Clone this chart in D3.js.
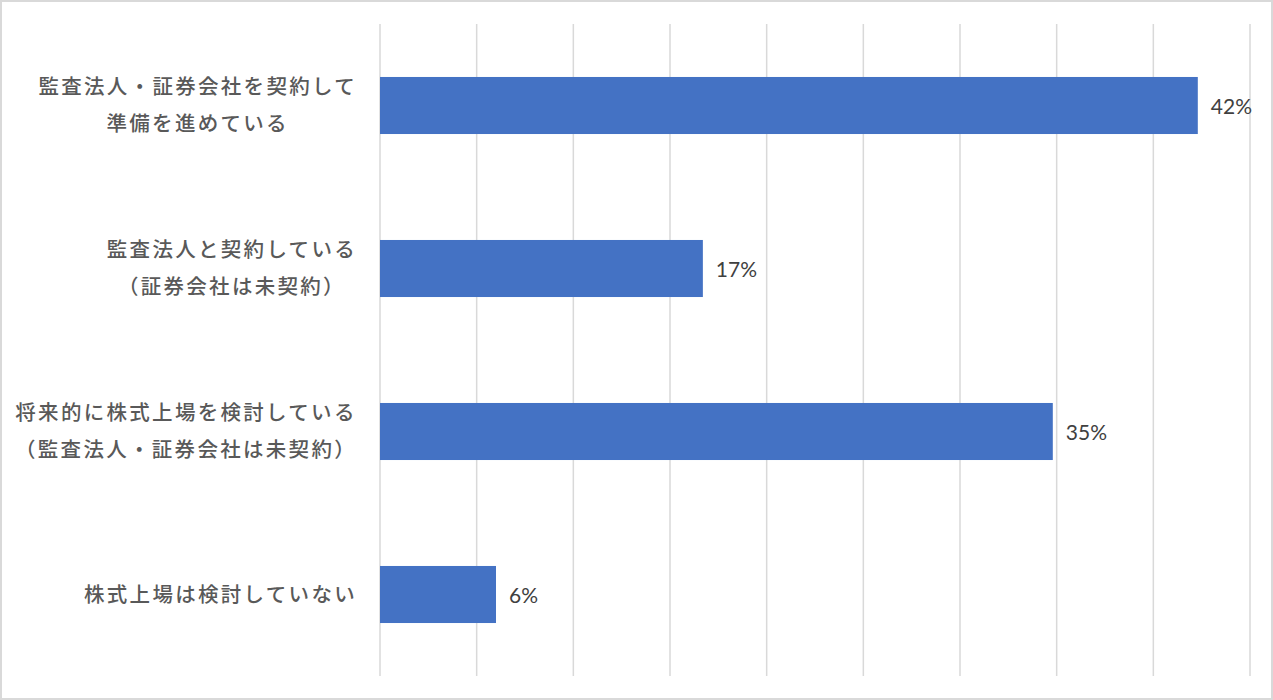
<!DOCTYPE html>
<html>
<head>
<meta charset="utf-8">
<script src="https://cdn.jsdelivr.net/npm/d3@7"></script>
<style>
   html, body { margin: 0; padding: 0; background: #fff; }
   svg { display: block; }
</style>
</head>
<body>
<div id="chart"></div>
<script>

// CATEGORY LABELS (EACH ENTRY IS A LIST OF LINES)
var categories = [
   ['監査法人・証券会社を契約して', '準備を進めている'],
   ['監査法人と契約している', '（証券会社は未契約）'],
   ['将来的に株式上場を検討している', '（監査法人・証券会社は未契約）'],
   ['株式上場は検討していない']
];

// SHARE OF RESPONDENTS (%)
var values = [42.3, 16.7, 34.8, 6.0];

// GRIDLINE TICKS (%)
var ticks = [0, 5, 10, 15, 20, 25, 30, 35, 40, 45];

// SETTINGS
var settings = {
   width: 1273,
   height: 700,
   left: 380,
   right: 1250,
   top: 24,
   bottom: 676,
   labelRight: 357,
   bar: '#4472c4',
   grid: '#d9d9d9',
   border: '#d9d9d9'
};

// GENERATE CANVAS
var canvas = d3.select('#chart').append('svg')
   .attr('width', settings.width)
   .attr('height', settings.height)

// OUTER BORDER
canvas.append('rect')
   .attr('x', 1)
   .attr('y', 1)
   .attr('width', settings.width - 2)
   .attr('height', settings.height - 2)
   .attr('fill', '#fff')
   .attr('stroke', settings.border)
   .attr('stroke-width', 2)

// X-SCALING
var xScale = d3.scaleLinear()
   .domain([0, d3.max(ticks)])
   .range([settings.left, settings.right])

// Y-SCALING
var yScale = d3.scaleBand()
   .domain(d3.range(categories.length))
   .range([settings.top, settings.bottom])
   .paddingInner(0.65)
   .paddingOuter(0.325)

// GRIDLINES
canvas.append('g')
   .selectAll('line')
   .data(ticks)
      .enter().append('line')
         .attr('x1', d => xScale(d))
         .attr('x2', d => xScale(d))
         .attr('y1', settings.top)
         .attr('y2', settings.bottom)
         .attr('stroke', settings.grid)
         .attr('stroke-width', 1.5)

// BARS
canvas.append('g')
   .selectAll('rect')
   .data(values)
      .enter().append('rect')
         .attr('x', xScale(0))
         .attr('y', (d, i) => yScale(i))
         .attr('width', d => xScale(d) - xScale(0))
         .attr('height', yScale.bandwidth())
         .attr('fill', settings.bar)

// VALUE LABELS
canvas.append('g')
   .selectAll('text')
   .data(values)
      .enter().append('text')
         .attr('x', d => xScale(d) + 13)
         .attr('y', (d, i) => yScale(i) + yScale.bandwidth() / 2)
         .attr('dy', '0.4em')
         .attr('font-family', 'Lato, "Open Sans", sans-serif')
         .attr('font-size', '21px')
         .attr('fill', '#404040')
         .text(d => Math.round(d) + '%')

// CATEGORY LABELS (LINES CENTRED, BLOCK RIGHT-ALIGNED TO AXIS)
var lineGap = 37;
canvas.append('g')
   .selectAll('text')
   .data(categories)
      .enter().append('text')
         .attr('text-anchor', 'middle')
         .attr('font-family', '"Noto Sans CJK JP", "Noto Sans", sans-serif')
         .attr('font-size', '20.5px')
         .attr('font-weight', 500)
         .attr('letter-spacing', '2.3px')
         .attr('fill', '#595959')
         .each(function(d, i) {
            var cy = yScale(i) + yScale.bandwidth() / 2;
            var y0 = cy - (d.length - 1) * lineGap / 2;
            var spans = d3.select(this).selectAll('tspan')
               .data(d)
                  .enter().append('tspan')
                     .attr('y', (t, j) => y0 + j * lineGap)
                     .attr('dy', '0.36em')
                     .text(t => t)

            // WIDEST LINE SETS THE BLOCK WIDTH
            var widest = d3.max(spans.nodes(), n => n.getComputedTextLength());
            spans.attr('x', settings.labelRight - widest / 2)
         })

</script>
</body>
</html>
